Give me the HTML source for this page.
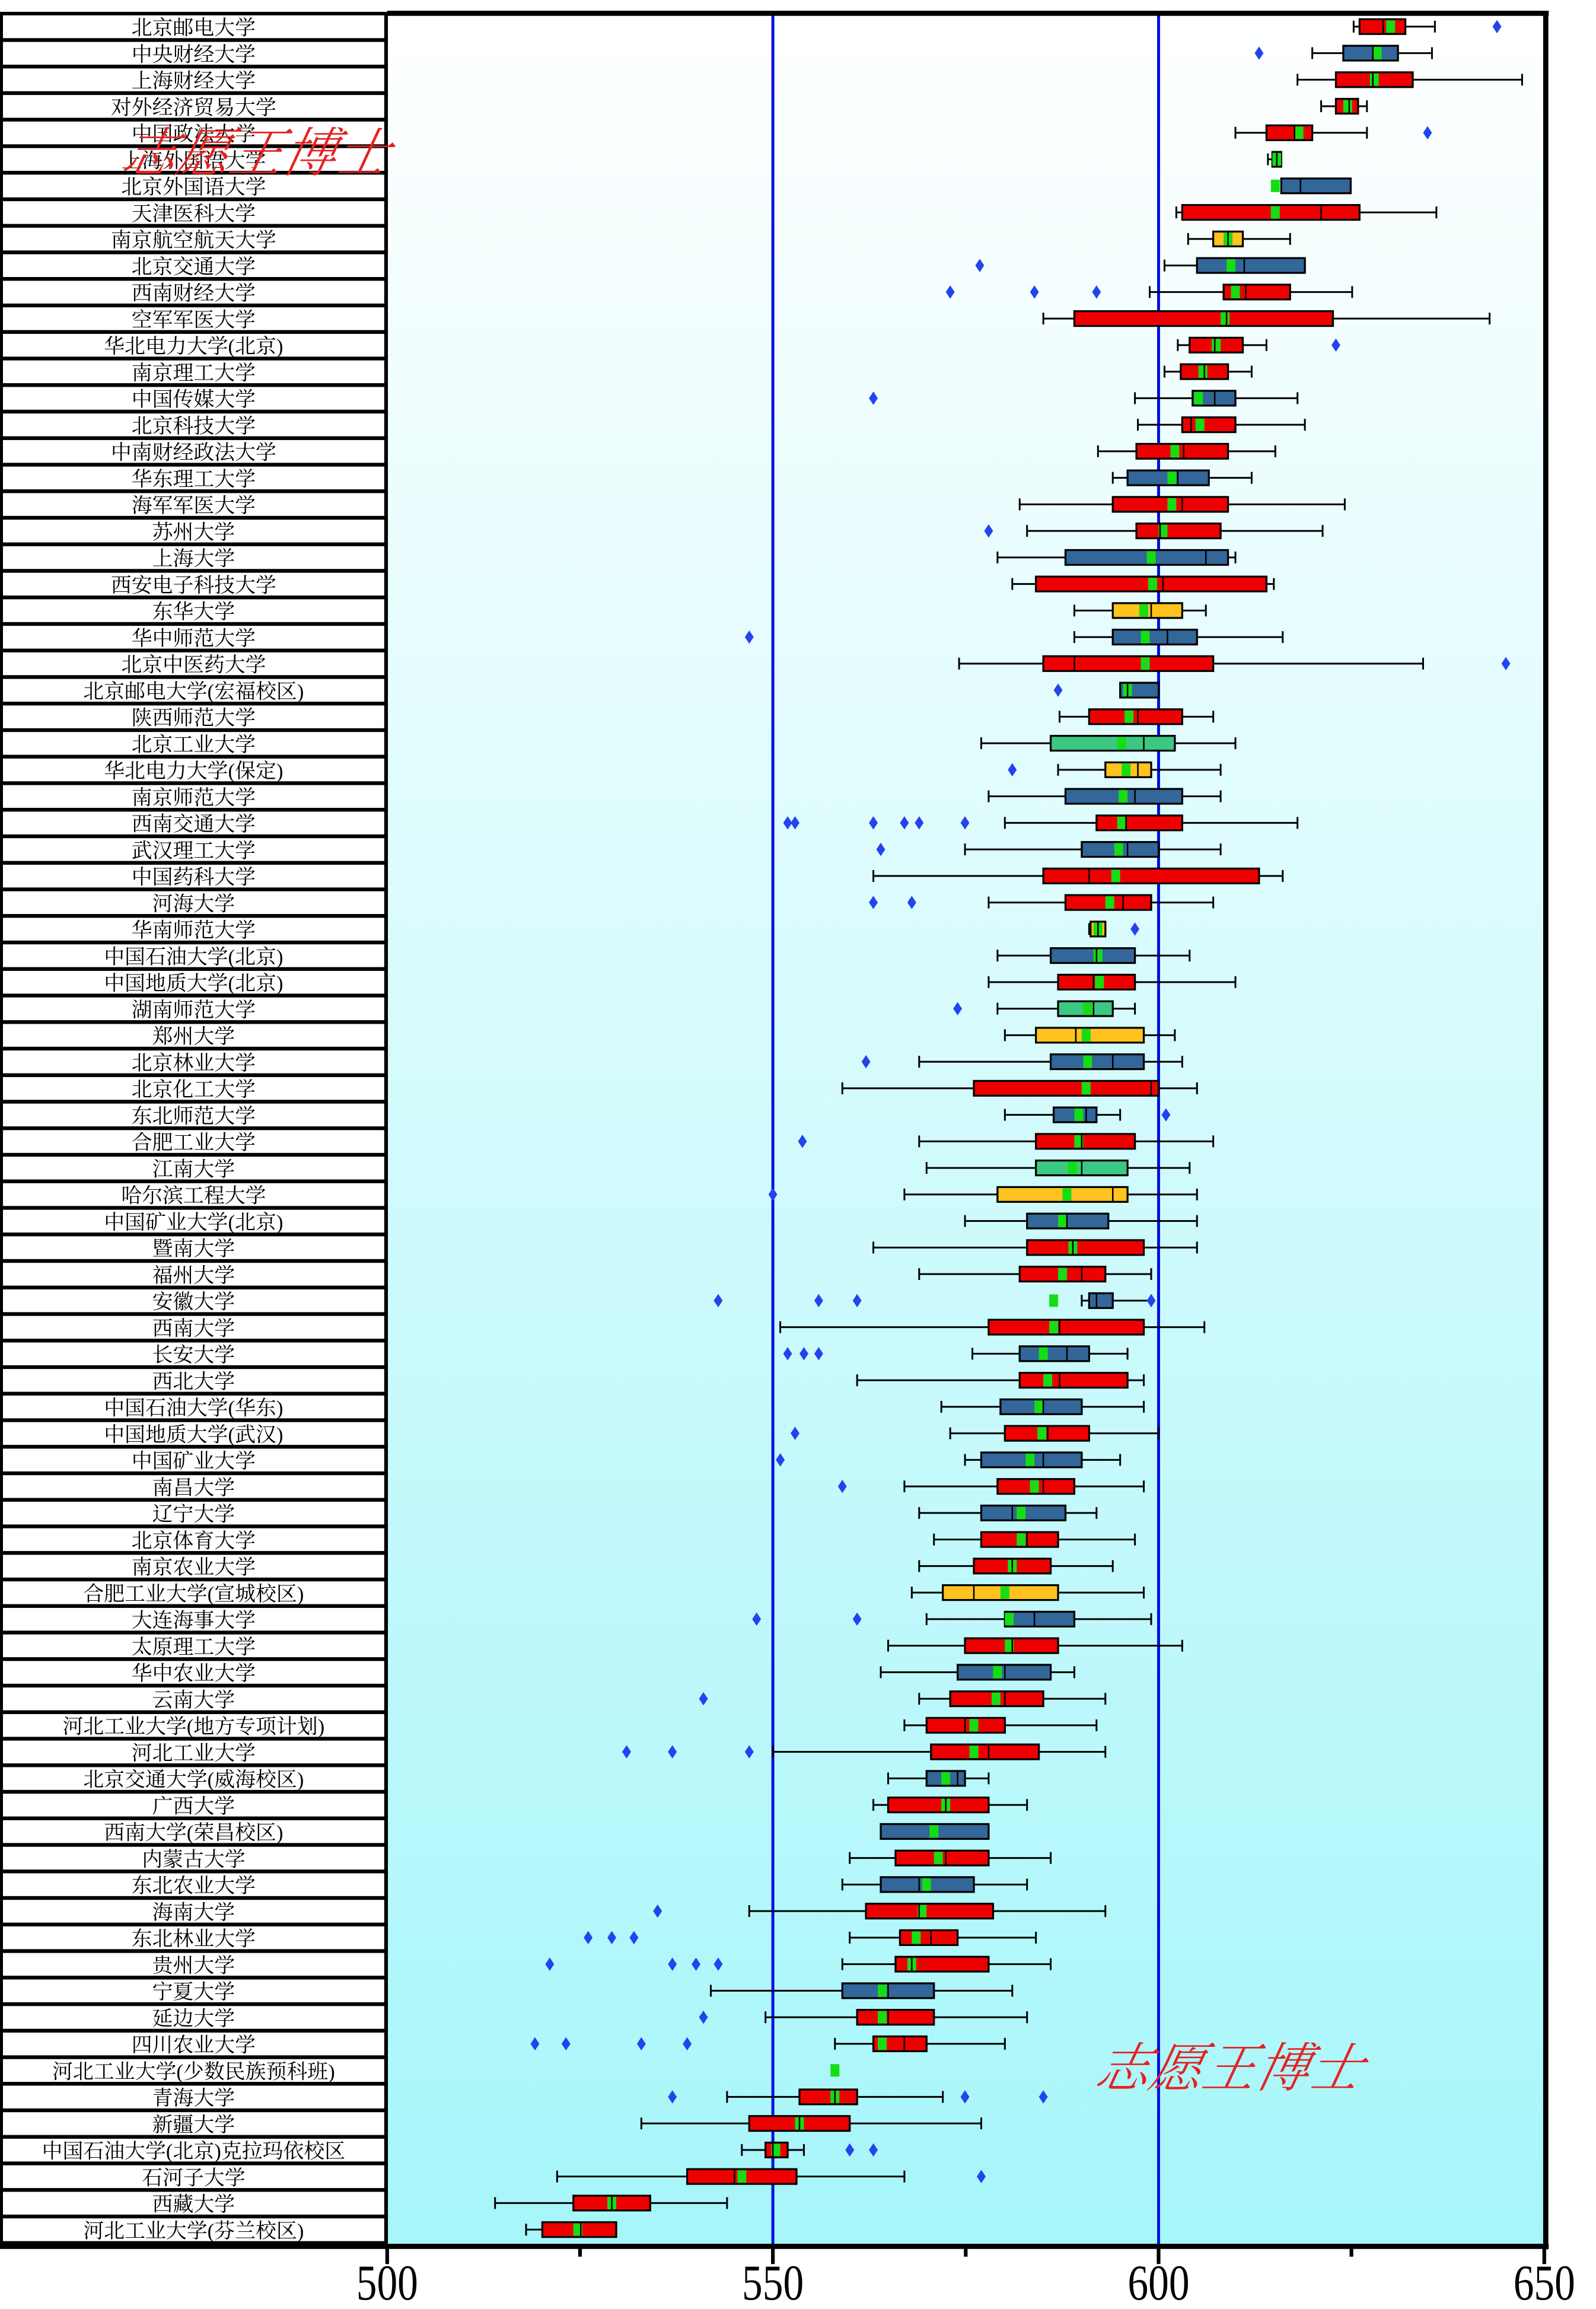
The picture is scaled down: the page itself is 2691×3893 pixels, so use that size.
<!DOCTYPE html>
<html><head><meta charset="utf-8">
<style>
html,body{margin:0;padding:0;background:#fff;}
svg{display:block;}
</style></head>
<body>
<svg id="s" xmlns="http://www.w3.org/2000/svg" width="2691" height="3893" viewBox="0 0 1080 1562.4">
<defs>
<linearGradient id="bg" x1="0" y1="0" x2="0" y2="1">
<stop offset="0" stop-color="#ffffff"/>
<stop offset="1" stop-color="#a6f6fa"/>
</linearGradient>
</defs>
<rect x="0" y="0" width="1080" height="1562.4" fill="#fff"/>
<rect x="0" y="8" width="262" height="1512" fill="#000"/>
<rect x="262" y="9" width="784" height="1511" fill="url(#bg)"/>
<g id="cells"></g>
<line x1="523" y1="9" x2="523" y2="1520" stroke="#0010e0" stroke-width="2"/>
<line x1="784" y1="9" x2="784" y2="1520" stroke="#0010e0" stroke-width="2"/>
<g id="boxes"></g>
<rect x="262" y="9" width="784" height="1511" fill="none" stroke="#000" stroke-width="1"/>
<line x1="262" y1="9" x2="1048" y2="9" stroke="#000" stroke-width="3.5"/>
<line x1="1046" y1="9" x2="1046" y2="1522" stroke="#000" stroke-width="3.5"/>
<line x1="0" y1="1520" x2="1048" y2="1520" stroke="#000" stroke-width="3.5"/>
<g stroke="#000" stroke-width="2.5">
<line x1="262" y1="1520" x2="262" y2="1532"/>
<line x1="523" y1="1520" x2="523" y2="1532"/>
<line x1="784" y1="1520" x2="784" y2="1532"/>
<line x1="1045" y1="1520" x2="1045" y2="1532"/>
<line x1="392.5" y1="1520" x2="392.5" y2="1527"/>
<line x1="653.5" y1="1520" x2="653.5" y2="1527"/>
<line x1="914.5" y1="1520" x2="914.5" y2="1527"/>
</g>
<g font-family="'Liberation Serif',serif" font-size="34" fill="#000" text-anchor="middle">
<text x="262" y="1556" transform="translate(262 0) scale(0.82 1) translate(-262 0)">500</text>
<text x="523" y="1556" transform="translate(523 0) scale(0.82 1) translate(-523 0)">550</text>
<text x="784" y="1556" transform="translate(784 0) scale(0.82 1) translate(-784 0)">600</text>
<text x="1045" y="1556" transform="translate(1045 0) scale(0.82 1) translate(-1045 0)">650</text>
</g>
<g id="labels"></g>
<g font-family="'Liberation Serif','Noto Serif CJK SC',serif" font-size="36" fill="#e82020" font-style="italic" font-weight="300">
<text x="84" y="116" transform="skewX(-12) translate(22 0)">志愿王博士</text>
<text x="740" y="1412" transform="translate(300 0) skewX(-12)">志愿王博士</text>
</g>
</svg>
<script>
var D=[
["北京邮电大学",916,920,936,951,971,941,"r",[1013]],
["中央财经大学",888,909,929,946,969,932,"b",[852]],
["上海财经大学",878,904,929,956,1030,930,"r",[]],
["对外经济贸易大学",894,904,913,919,925,912,"r",[]],
["中国政法大学",836,857,876,888,925,879,"r",[966]],
["上海外国语大学",858,861,864,867,867,864,"y",[]],
["北京外国语大学",867,867,880,914,914,863,"b",[]],
["天津医科大学",796,800,894,920,972,863,"r",[]],
["南京航空航天大学",804,821,831,841,873,831,"y",[]],
["北京交通大学",788,810,842,883,883,833,"b",[663]],
["西南财经大学",778,828,843,873,915,836,"r",[643,700,742]],
["空军军医大学",706,727,830,902,1008,829,"r",[]],
["华北电力大学(北京)",797,805,822,841,857,823,"r",[904]],
["南京理工大学",788,799,815,831,847,814,"r",[]],
["中国传媒大学",768,807,822,836,878,811,"b",[591]],
["北京科技大学",770,800,806,836,883,812,"r",[]],
["中南财经政法大学",743,769,801,831,863,795,"r",[]],
["华东理工大学",753,763,797,818,847,793,"b",[]],
["海军军医大学",690,753,800,831,910,793,"r",[]],
["苏州大学",695,769,785,826,895,787,"r",[669]],
["上海大学",675,721,816,831,836,779,"b",[]],
["西安电子科技大学",685,701,787,857,862,780,"r",[]],
["东华大学",727,753,779,800,816,774,"y",[]],
["华中师范大学",727,753,790,810,868,775,"b",[507]],
["北京中医药大学",649,706,727,821,963,775,"r",[1019]],
["北京邮电大学(宏福校区)",758,758,763,784,784,763,"b",[716]],
["陕西师范大学",717,737,770,800,821,764,"r",[]],
["北京工业大学",664,711,774,795,836,759,"g",[]],
["华北电力大学(保定)",716,748,770,779,826,762,"y",[685]],
["南京师范大学",669,721,768,800,826,760,"b",[]],
["西南交通大学",680,742,762,800,878,759,"r",[533,538,591,612,622,653]],
["武汉理工大学",653,732,763,784,826,757,"b",[596]],
["中国药科大学",591,706,737,852,868,755,"r",[]],
["河海大学",669,721,760,779,821,751,"r",[591,617]],
["华南师范大学",737,738,743,748,748,743,"y",[768]],
["中国石油大学(北京)",675,711,742,768,805,743,"b",[]],
["中国地质大学(北京)",669,716,740,768,836,744,"r",[]],
["湖南师范大学",675,716,740,753,768,736,"g",[648]],
["郑州大学",680,701,728,774,795,735,"y",[]],
["北京林业大学",622,711,753,774,800,736,"b",[586]],
["北京化工大学",570,659,779,784,810,735,"r",[]],
["东北师范大学",680,713,735,742,758,730,"b",[789]],
["合肥工业大学",622,701,732,768,821,730,"r",[543]],
["江南大学",627,701,732,763,805,726,"g",[]],
["哈尔滨工程大学",612,675,753,763,810,722,"y",[523]],
["中国矿业大学(北京)",653,695,722,750,810,719,"b",[]],
["暨南大学",591,695,726,774,810,726,"r",[]],
["福州大学",622,690,732,748,779,719,"r",[]],
["安徽大学",732,737,742,753,779,713,"b",[486,554,580,779]],
["西南大学",528,669,717,774,815,713,"r",[]],
["长安大学",658,690,722,737,763,706,"b",[533,544,554]],
["西北大学",580,690,717,763,774,709,"r",[]],
["中国石油大学(华东)",637,677,706,732,774,703,"b",[]],
["中国地质大学(武汉)",643,680,709,737,784,705,"r",[538]],
["中国矿业大学",653,664,706,732,758,697,"b",[528]],
["南昌大学",612,675,706,727,774,700,"r",[570]],
["辽宁大学",622,664,685,721,742,691,"b",[]],
["北京体育大学",632,664,695,716,768,691,"r",[]],
["南京农业大学",622,659,685,711,753,685,"r",[]],
["合肥工业大学(宣城校区)",617,638,659,716,774,680,"y",[]],
["大连海事大学",627,680,700,727,779,683,"b",[512,580]],
["太原理工大学",601,653,685,716,800,683,"r",[]],
["华中农业大学",596,648,680,711,727,675,"b",[]],
["云南大学",622,643,680,706,748,674,"r",[476]],
["河北工业大学(地方专项计划)",612,627,653,680,742,659,"r",[]],
["河北工业大学",523,630,669,703,748,659,"r",[424,455,507]],
["北京交通大学(威海校区)",601,627,648,653,669,640,"b",[]],
["广西大学",591,601,640,669,695,640,"r",[]],
["西南大学(荣昌校区)",596,596,669,669,669,632,"b",[]],
["内蒙古大学",575,606,640,669,711,635,"r",[]],
["东北农业大学",570,596,622,659,695,627,"b",[]],
["海南大学",507,586,622,672,748,624,"r",[445]],
["东北林业大学",575,609,630,648,701,620,"r",[398,414,429]],
["贵州大学",570,606,617,669,711,617,"r",[372,455,471,486]],
["宁夏大学",481,570,601,632,685,597,"b",[]],
["延边大学",518,580,601,632,695,597,"r",[476]],
["四川农业大学",565,591,612,627,680,597,"r",[362,383,434,465]],
["河北工业大学(少数民族预科班)",565,565,565,565,565,565,"n",[]],
["青海大学",492,541,565,580,638,565,"r",[455,653,706]],
["新疆大学",434,507,541,575,664,541,"r",[]],
["中国石油大学(北京)克拉玛依校区",502,518,523,533,544,525,"r",[575,591]],
["石河子大学",377,465,497,539,612,502,"r",[664]],
["西藏大学",335,388,414,440,492,414,"r",[]],
["河北工业大学(芬兰校区)",356,367,393,417,417,391,"r",[]]
];
var C={r:"#ee0000",b:"#336699",y:"#ffc21e",g:"#3cc882",n:"none"};
var NS="http://www.w3.org/2000/svg";
function el(p,t,a,txt){var e=document.createElementNS(NS,t);for(var k in a)e.setAttribute(k,a[k]);if(txt)e.textContent=txt;p.appendChild(e);return e;}
var cells=document.getElementById("cells"),bx=document.getElementById("boxes"),lb=document.getElementById("labels");
var P=17.96;
for(var i=0;i<D.length;i++){
 var d=D[i],y=18+P*i;
 el(cells,"rect",{x:2,y:y-7.6,width:258,height:15.4,fill:"#fff"});
 el(lb,"text",{x:131,y:y+5.5,"font-size":14,"text-anchor":"middle","font-family":"'Liberation Serif','Noto Serif CJK SC',serif",fill:"#000"},d[0]);
 var h=5;
 if(d[1]<d[2]) {el(bx,"line",{x1:d[1],y1:y,x2:d[2],y2:y,stroke:"#000","stroke-width":1.2});el(bx,"line",{x1:d[1],y1:y-4,x2:d[1],y2:y+4,stroke:"#000","stroke-width":1.2});}
 if(d[5]>d[4]||d[4]>d[3]) {el(bx,"line",{x1:d[4],y1:y,x2:d[5],y2:y,stroke:"#000","stroke-width":1.2});el(bx,"line",{x1:d[5],y1:y-4,x2:d[5],y2:y+4,stroke:"#000","stroke-width":1.2});}
 if(d[7]!="n"){
  el(bx,"rect",{x:d[2],y:y-h,width:Math.max(d[4]-d[2],2),height:2*h,fill:C[d[7]],stroke:"#000","stroke-width":1.3});
 }
 el(bx,"rect",{x:d[6]-3,y:y-4.2,width:6,height:8.4,fill:"#14dd14"});
 if(d[7]!="n") el(bx,"line",{x1:d[3],y1:y-h,x2:d[3],y2:y+h,stroke:"#000","stroke-width":1});
 for(var j=0;j<d[8].length;j++){var o=d[8][j];el(bx,"polygon",{points:(o-3)+","+y+" "+o+","+(y-4.5)+" "+(o+3)+","+y+" "+o+","+(y+4.5),fill:"#2244ee"});}
}
</script>
</body></html>
